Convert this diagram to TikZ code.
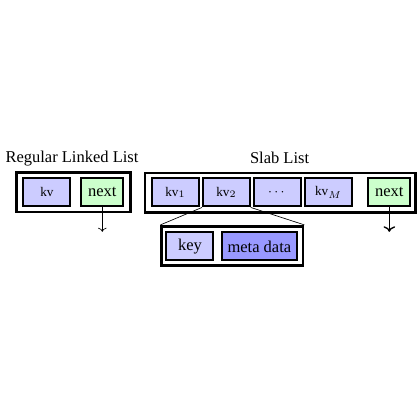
\documentclass[tikz,border=0pt]{standalone}
\usepackage{fontspec}
\setmainfont{Liberation Serif}
\usepackage{xcolor}
\usepackage{tikz}
\usetikzlibrary{positioning, arrows.meta}
\usepackage{amsmath}

\begin{document}
\begin{tikzpicture}[
    frame/.style={draw, ultra thick, rectangle, minimum height=0.84cm},
    kvbox/.style={draw, very thick, rectangle, fill=blue!20, minimum width=1.0cm, minimum height=0.6cm, font=\footnotesize},
    nextbox/.style={draw, very thick, rectangle, fill=green!20, minimum width=0.9cm, minimum height=0.6cm},
    fieldbox/.style={draw, very thick, rectangle, minimum height=0.6cm},
    ptr/.style={->},
]
\useasboundingbox (0,0) rectangle (8.95,-8.95);

% Regular linked list
\node[frame, minimum width=2.44cm] (rframe) at (1.566, -4.10) {};
\node[kvbox] (rkv) at (1.00, -4.10) {kv};
\node[nextbox] (rnext) at (2.18, -4.10) {next};
\node (rtitle) at (1.534, -3.37) {Regular Linked List};
\coordinate (rend) at (2.18, -4.94);

% Slab list
\node[frame, minimum width=5.77cm] (sframe) at (5.975, -4.11) {};
\node[kvbox] (kv1) at (3.738, -4.10) {kv$_1$};
\node[kvbox] (kv2) at (4.824, -4.10) {kv$_2$};
\node[kvbox] (kvdots) at (5.911, -4.10) {$\cdots$};
\node[kvbox] (kvM) at (6.997, -4.10) {kv$_M$};
\node[nextbox] (snext) at (8.296, -4.10) {next};
\node (stitle) at (5.958, -3.37) {Slab List};
\coordinate (send) at (8.296, -4.94);

% Slot detail
\node[frame, minimum width=3.01cm] (detail) at (4.952, -5.24) {};
\node[fieldbox, fill=blue!20, minimum width=1.0cm] (key) at (4.047, -5.25) {key};
\node[fieldbox, fill=blue!40, minimum width=1.6cm] (meta) at (5.527, -5.25) {meta data};

% Pointers
\draw[ptr] (rnext) -- (rend);
\draw[ptr, thick] (snext) -- (send);

% Zoom lines
\draw (kv2.south west) -- (detail.north west);
\draw (kv2.south east) -- (detail.north east);
\end{tikzpicture}
\end{document}
